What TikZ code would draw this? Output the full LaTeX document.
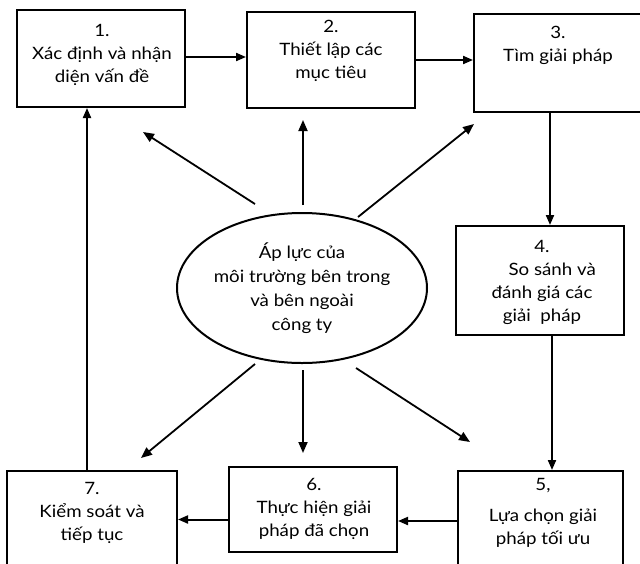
\documentclass[tikz,border=0pt]{standalone}
\usepackage{fontspec}
\setmainfont{Lato}[FakeStretch=1.1]
\usetikzlibrary{arrows.meta,shapes.geometric}

\tikzset{
  box/.style={draw, line width=2pt, rectangle, inner sep=0pt},
  label/.style={align=center, inner sep=0pt, font=\fontsize{17}{23}\selectfont},
  flow/.style={line width=2pt, -{Triangle[length=10pt,width=8pt]}},
  ray/.style={line width=1.8pt, -{Triangle[length=11pt,width=9pt]}},
}

\begin{document}
\begin{tikzpicture}[x=1pt,y=-1pt]
  \clip (0,0) rectangle (640,563);
  \fill[white] (0,0) rectangle (640,563);

  % process steps (boxes 3, 5 and 7 run past the page edge)
  \node[box, minimum width=168pt, minimum height=97pt]  (b1) at (101,58.5) {};
  \node[box, minimum width=168pt, minimum height=96pt]  (b2) at (331,60)   {};
  \node[box, minimum width=176pt, minimum height=98pt]  (b3) at (562,63)   {};
  \node[box, minimum width=168pt, minimum height=109pt] (b4) at (540,280.5) {};
  \node[box, minimum width=165pt, minimum height=104pt] (b5) at (540.5,523) {};
  \node[box, minimum width=168pt, minimum height=85pt]  (b6) at (313,509.5) {};
  \node[box, minimum width=170pt, minimum height=104pt] (b7) at (92,523)   {};

  % step texts
  \node[label] (t1) at (102,55)  {1.\\Xác định và nhận\\diện vấn đề};
  \node[label] (t2) at (331,50.5){2.\\Thiết lập các\\mục tiêu};
  \node[label] (t3) at (558,45)  {3.\\Tìm giải pháp};
  \node[label] (t4) at (542,282) {4.\\\hspace*{1.2em}So sánh và\\đánh giá các\\giải\ \ pháp};
  \node[label] (t5) at (543,512.5) {5,\\[8pt]Lựa chọn giải\\pháp tối ưu};
  \node[label] (t6) at (314,509) {6.\\Thực hiện giải\\pháp đã chọn};
  \node[label] (t7) at (92,513)  {7.\\Kiểm soát và\\tiếp tục};

  % environmental pressure
  \node[draw, ellipse, line width=2pt, inner sep=0pt,
        minimum width=250pt, minimum height=150pt,
        align=center, font=\fontsize{17}{24}\selectfont] (e) at (302,288)
        {Áp lực của\\môi trường bên trong\\và bên ngoài\\công ty};

  % main cycle
  \draw[flow] (b1.east |- 0,57) -- (b2.west |- 0,57);
  \draw[flow] (b2.east) -- (b2.east -| b3.west);
  \draw[flow] ([xshift=10pt]b4.north |- b3.south) -- ([xshift=10pt]b4.north);
  \draw[flow] ([xshift=12pt]b4.south) -- ([xshift=12pt]b4.south |- b5.north);
  \draw[flow] ([yshift=2pt]b5.west) -- ([yshift=2pt]b5.west -| b6.east);
  \draw[flow] ([yshift=-10pt]b6.west) -- ([yshift=-10pt]b6.west -| b7.east);
  \draw[flow] ([xshift=-5pt]b7.north) -- ([xshift=-5pt]b7.north |- b1.south);

  % pressure acting on every step
  \coordinate (s1) at (255,204); \coordinate (h1) at (143,132);
  \coordinate (s2) at (303,205); \coordinate (h2) at (303,120);
  \coordinate (s3) at (358,217); \coordinate (h3) at (474,124);
  \coordinate (s4) at (255,364); \coordinate (h4) at (141,458);
  \coordinate (s5) at (303,370); \coordinate (h5) at (303,453);
  \coordinate (s6) at (356,368); \coordinate (h6) at (470,442);
  \foreach \i in {1,...,6} \draw[ray] (s\i) -- (h\i);
\end{tikzpicture}
\end{document}
